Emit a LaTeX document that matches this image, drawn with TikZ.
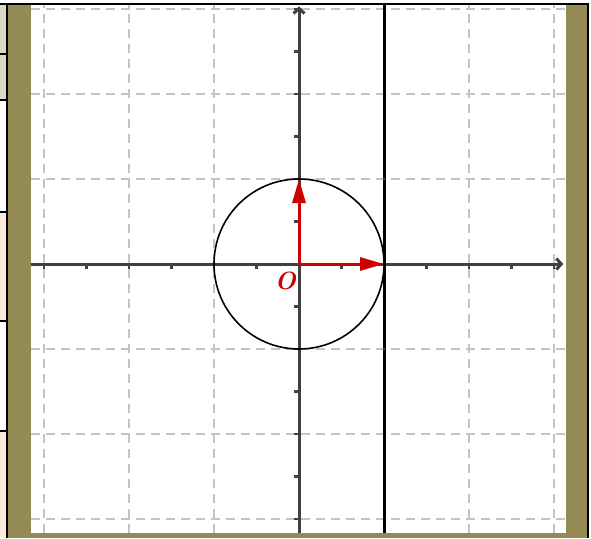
\documentclass[tikz,border=0pt]{standalone}
\usetikzlibrary{arrows.meta}
\definecolor{bandolive}{RGB}{148,138,84}
\definecolor{cellgray}{RGB}{221,216,196}
\definecolor{cellpeach}{RGB}{252,235,220}
\definecolor{gridgray}{RGB}{196,196,196}
\definecolor{axisgray}{RGB}{64,64,64}
\definecolor{vecred}{RGB}{204,0,0}
\definecolor{ptblue}{RGB}{60,60,140}
\tikzset{
  gridline/.style={draw=gridgray,line width=1.5pt,dash pattern=on 9pt off 6pt},
  axisline/.style={draw=axisgray,line width=3pt,-{Straight Barb[length=5pt,width=11pt]}},
  tickmark/.style={draw=axisgray,line width=2.5pt},
  vecarrow/.style={draw=vecred,line width=3pt,-{Triangle[length=24pt,width=13pt]}},
  ptdot/.style={fill=ptblue,circle,inner sep=0pt,minimum size=3pt},
  framebar/.style={line width=2.2pt,draw=black}
}
\begin{document}
\begin{tikzpicture}[x=1pt,y=-1pt]
\useasboundingbox (0,0) rectangle (591,538);
\fill[white] (0,0) rectangle (591,538);
% left panel cells
\fill[cellgray] (0,5) rectangle (7,100);
\fill[cellpeach] (0,212) rectangle (7,321);
\fill[cellpeach] (0,431) rectangle (7,538);
\foreach \yy in {54,100,212,321,431} \draw[framebar] (0,\yy) -- (7,\yy);
% frame and olive band
\fill[bandolive] (7,5) rectangle (588,538);
\fill[white] (31,5) rectangle (566,533);
\draw[framebar] (0,4) -- (589,4);
\draw[framebar] (7,4) -- (7,538);
\draw[framebar] (588,4) -- (588,538);
% plot
\begin{scope}[shift={(299,264)},x=85pt,y=85pt]
  \coordinate (O) at (0,0);
  \coordinate (E1) at (1,0);
  \coordinate (E2) at (0,1);
  \coordinate (P1) at (1,1);
  \coordinate (P2) at (1,-1);
  \coordinate (Lb) at (1,-3.165);
  \coordinate (Lt) at (1,3.047);
  \coordinate (Xl) at (-3.153,0);
  \coordinate (Xr) at (3.11,0);
  \coordinate (Yb) at (0,-3.165);
  \coordinate (Yt) at (0,3.03);
  \foreach \g in {-3,-2,-1,1,2,3} {
    \draw[gridline] (\g,-3.165) -- (\g,3.047);
    \draw[gridline] (-3.153,\g) -- (3.141,\g);
  }
  \foreach \t in {-3,-2.5,...,3} {
    \ifdim \t pt=0pt\else
      \draw[tickmark] (\t,0) -- ++(0pt,-5pt);
      \draw[tickmark] (0,\t) -- ++(-5pt,0pt);
    \fi
  }
  \draw[axisline] (Xl) -- (Xr);
  \draw[axisline] (Yb) -- (Yt);
  \draw[black,line width=1.6pt] (O) circle (1);
  \draw[black,line width=3pt] (Lb) -- (Lt);
  \draw[vecarrow] (O) -- (E1);
  \draw[vecarrow] (O) -- (E2);
  \node[ptdot] (p1) at (P1) {};
  \node[ptdot] (p2) at (P2) {};
  \node[ptdot,fill=axisgray] (po) at (O) {};
  \node[ptdot,fill=black] (pe) at (E1) {};
  \node[text=vecred,inner sep=0pt,font=\fontsize{25}{28}\selectfont\bfseries\itshape] (lblO) at (-0.16,-0.2) {O};
\end{scope}
\end{tikzpicture}
\end{document}
